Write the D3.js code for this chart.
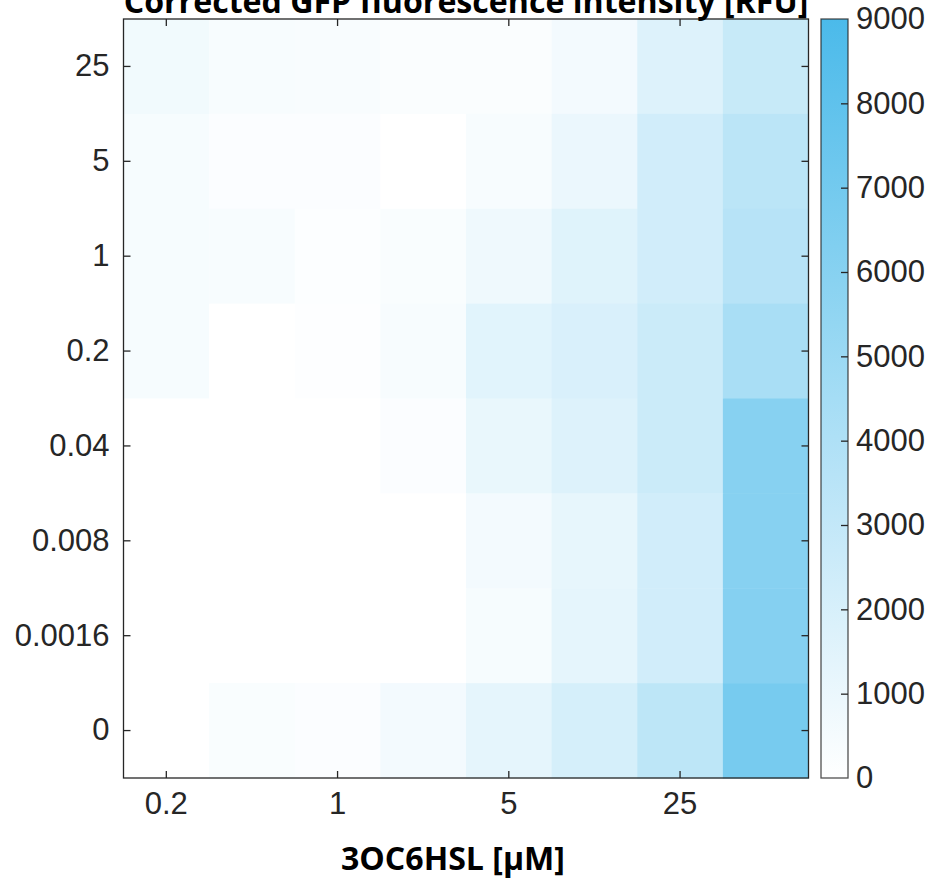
<!DOCTYPE html>
<html><head><meta charset="utf-8">
<script src="https://cdn.jsdelivr.net/npm/d3@7"></script>
<style>body{margin:0;background:#fff}svg{display:block}</style>
</head><body>
<svg id="chart" width="930" height="879"></svg>
<script>
// ---- data ----
const columns = [0, 1, 2, 3, 4, 5, 6, 7];          // 3OC6HSL concentration steps
const xTickCols = [0, 2, 4, 6];
const xTickLabels = ["0.2", "1", "5", "25"];
const rowLabels = ["25", "5", "1", "0.2", "0.04", "0.008", "0.0016", "0"]; // top to bottom
const row25     = [700, 400, 350, 250, 250, 600, 1700, 2800];
const row5      = [450, 200, 200, 0, 400, 1000, 2300, 3400];
const row1      = [450, 400, 150, 300, 800, 1600, 2300, 3600];
const row02     = [450, 0, 100, 400, 1500, 1900, 2600, 4300];
const row004    = [0, 0, 0, 200, 1100, 1700, 2600, 6000];
const row0008   = [0, 0, 0, 0, 600, 1200, 2300, 6000];
const row00016  = [0, 0, 0, 0, 450, 1300, 2300, 6100];
const row0      = [0, 300, 200, 600, 1300, 2100, 3300, 6800];
const values = [row25, row5, row1, row02, row004, row0008, row00016, row0];
const cbTicks = [0, 1000, 2000, 3000, 4000, 5000, 6000, 7000, 8000, 9000];
const titleText = "Corrected GFP fluorescence intensity [RFU]";
const xLabelText = "3OC6HSL [μM]";

// ---- layout ----
const svg = d3.select("#chart");
const L = 123.5, R = 808.5, T = 19, B = 778;
const axisColor = "#262626";
const tickFont = "'Liberation Sans', Arial, Helvetica, sans-serif";

const x = d3.scaleBand().domain(columns).range([L, R]);
const y = d3.scaleBand().domain(rowLabels).range([T, B]);
const color = d3.scaleLinear().domain([0, 9000]).range(["#ffffff", "#4bbaea"]);

const cells = [];
values.forEach((row, i) => row.forEach((v, j) => cells.push({r: rowLabels[i], c: columns[j], v})));
svg.append("g").selectAll("rect").data(cells).join("rect")
  .attr("x", d => x(d.c)).attr("y", d => y(d.r))
  .attr("width", x.bandwidth() + 0.5).attr("height", y.bandwidth() + 0.5)
  .attr("fill", d => color(d.v));

// axes
const tl = 7;
function styleAxis(g) {
  g.select(".domain").remove();
  g.selectAll(".tick line").attr("stroke", axisColor).attr("stroke-width", 1.3);
  g.selectAll(".tick text").attr("fill", axisColor).style("font-family", tickFont).style("font-size", "31px");
}
const xB = svg.append("g").attr("transform", `translate(0,${B})`)
  .call(d3.axisBottom(x).tickValues(xTickCols).tickSize(-tl).tickPadding(14)
    .tickFormat(d => xTickLabels[xTickCols.indexOf(d)]));
styleAxis(xB);
xB.selectAll(".tick text").attr("dy", "0.71em").attr("y", 14);
const xT = svg.append("g").attr("transform", `translate(0,${T})`)
  .call(d3.axisTop(x).tickValues(xTickCols).tickSize(-tl).tickFormat(""));
styleAxis(xT);
const yL = svg.append("g").attr("transform", `translate(${L},0)`)
  .call(d3.axisLeft(y).tickSize(-tl).tickPadding(14));
styleAxis(yL);
const yR = svg.append("g").attr("transform", `translate(${R},0)`)
  .call(d3.axisRight(y).tickSize(-tl).tickFormat(""));
styleAxis(yR);
svg.append("rect").attr("x", L).attr("y", T).attr("width", R - L).attr("height", B - T)
  .attr("fill", "none").attr("stroke", axisColor).attr("stroke-width", 1.3);

// colorbar
const cbL = 821, cbR = 848;
const cbScale = d3.scaleLinear().domain([0, 9000]).range([B, T]);
const defs = svg.append("defs");
const grad = defs.append("linearGradient").attr("id", "cbgrad")
  .attr("x1", 0).attr("y1", 1).attr("x2", 0).attr("y2", 0);
grad.selectAll("stop").data(d3.range(0, 1.0001, 0.1)).join("stop")
  .attr("offset", d => d).attr("stop-color", d => color(d * 9000));
svg.append("rect").attr("x", cbL).attr("y", T).attr("width", cbR - cbL).attr("height", B - T)
  .attr("fill", "url(#cbgrad)");
const cbAxis = svg.append("g").attr("transform", `translate(${cbR},0)`)
  .call(d3.axisRight(cbScale).tickValues(cbTicks).tickSize(-tl).tickPadding(11).tickFormat(d3.format("d")));
styleAxis(cbAxis);
cbAxis.selectAll(".tick line").filter(d => d === 0 || d === 9000).remove();
cbAxis.selectAll(".tick text").attr("x", 8);
svg.append("rect").attr("x", cbL).attr("y", T).attr("width", cbR - cbL).attr("height", B - T)
  .attr("fill", "none").attr("stroke", axisColor).attr("stroke-width", 1.3).attr("opacity", 0.8);

// title & x label
function fitText(sel, target) {
  const w = sel.node().getComputedTextLength();
  const fs = parseFloat(sel.style("font-size"));
  sel.style("font-size", (fs * target / w) + "px");
}
const title = svg.append("text").attr("x", 466).attr("y", 13).attr("text-anchor", "middle")
  .style("font-family", "'Open Sans', sans-serif").style("font-weight", "bold").style("font-size", "30px")
  .attr("fill", "#000").text(titleText);
fitText(title, 685);
const xl = svg.append("text").attr("x", 453).attr("y", 870).attr("text-anchor", "middle")
  .style("font-family", "'Open Sans', sans-serif").style("font-weight", "bold").style("font-size", "32px")
  .attr("fill", "#000").text(xLabelText);
fitText(xl, 224);
</script>
</body></html>
